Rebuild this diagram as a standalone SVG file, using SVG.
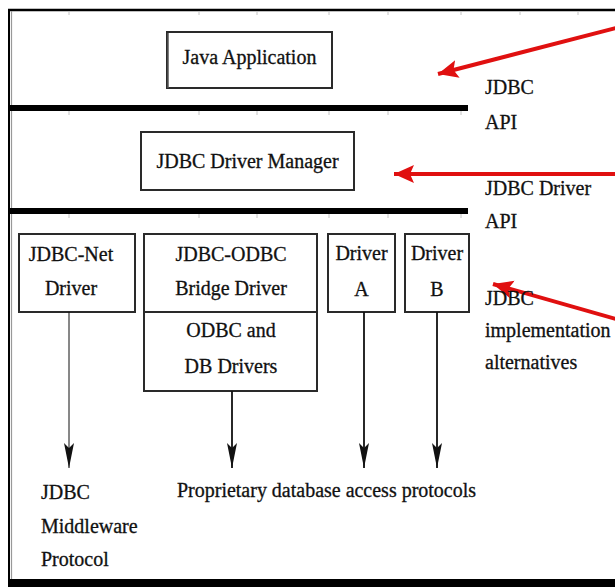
<svg xmlns="http://www.w3.org/2000/svg" width="615" height="587" viewBox="0 0 615 587" font-family="Liberation Serif, DejaVu Serif, serif" font-size="20">
  <style>
    text { fill: #111; stroke: #111; stroke-width: 0.3; }
    .c { text-anchor: middle; }
    .box { fill: #fff; stroke: #2a2a2a; stroke-width: 2; }
    .bar { stroke: #000; stroke-width: 6; }
    .tick { stroke: #c4c4c4; stroke-width: 1; }
    .down { stroke: #111; fill: none; }
    .red { stroke: #e01010; stroke-width: 4; fill: none; }
  </style>
  <defs>
    <marker id="redHead" markerUnits="userSpaceOnUse" markerWidth="24" markerHeight="20" refX="20" refY="9" orient="auto">
      <path d="M0,0 L20,9 L0,18 L4,9 Z" fill="#e01010"/>
    </marker>
    <marker id="blackHead" markerUnits="userSpaceOnUse" markerWidth="14" markerHeight="28" refX="6" refY="25" orient="0">
      <path d="M1,0 L6,25 L11,0 L6,5 Z" fill="#111"/>
    </marker>
  </defs>

  <rect x="0" y="0" width="615" height="587" fill="#fff"/>

  <!-- page frame -->
  <g id="frame">
    <line x1="8" y1="10" x2="615" y2="10" stroke="#000" stroke-width="2.5"/>
    <line x1="9" y1="9" x2="9" y2="582" stroke="#000" stroke-width="2"/>
    <line x1="11.5" y1="11" x2="11.5" y2="580" stroke="#999" stroke-width="1.2"/>
    <rect x="8" y="579" width="607" height="8" fill="#000"/>
  </g>

  <!-- faint grid ticks -->
  <g id="ticks" class="tick">
    <path d="M69,12v3 M199,12v3 M257,12v3 M329,12v3 M388,12v3 M461,12v3 M520,12v3 M578,12v3"/>
    <path d="M69,111v4 M199,111v4 M257,111v4 M329,111v4 M388,111v4 M461,111v4"/>
    <path d="M69,214v4 M199,214v4 M257,214v4 M329,214v4 M388,214v4 M461,214v4"/>
  </g>

  <!-- layer separators -->
  <g id="separators">
    <line class="bar" x1="10" y1="108" x2="468" y2="108"/>
    <line class="bar" x1="10" y1="211" x2="468" y2="211"/>
  </g>

  <g id="java-application">
    <rect class="box" x="167" y="32" width="165" height="56"/>
    <line x1="168" y1="33" x2="168" y2="88" stroke="#555" stroke-width="1.5"/>
    <text class="c" x="249.5" y="64">Java Application</text>
  </g>

  <g id="driver-manager">
    <rect class="box" x="141" y="132" width="213" height="58"/>
    <text class="c" x="247.5" y="168">JDBC Driver Manager</text>
  </g>

  <g id="jdbc-net-driver">
    <rect class="box" x="19" y="234" width="116" height="78"/>
    <text class="c" x="71" y="261">JDBC-Net</text>
    <text class="c" x="71" y="295">Driver</text>
  </g>

  <g id="jdbc-odbc-bridge">
    <rect class="box" x="144" y="234" width="173" height="78"/>
    <text class="c" x="231" y="261">JDBC-ODBC</text>
    <text class="c" x="231" y="295">Bridge Driver</text>
  </g>

  <g id="odbc-db-drivers">
    <rect class="box" x="144" y="312" width="173" height="79"/>
    <text class="c" x="231" y="337">ODBC and</text>
    <text class="c" x="231" y="373">DB Drivers</text>
  </g>

  <g id="driver-a">
    <rect class="box" x="328" y="234" width="67" height="78"/>
    <text class="c" x="361.5" y="260">Driver</text>
    <text class="c" x="361.5" y="296">A</text>
  </g>

  <g id="driver-b">
    <rect class="box" x="405" y="234" width="64" height="78"/>
    <text class="c" x="437" y="260">Driver</text>
    <text class="c" x="437" y="296">B</text>
  </g>

  <!-- connectors: protocols below, callouts on the right -->
  <g id="connectors">
    <line class="down" x1="69" y1="312" x2="69" y2="468" stroke-width="1" marker-end="url(#blackHead)"/>
    <line class="down" x1="232" y1="391" x2="232" y2="468" stroke-width="1.8" marker-end="url(#blackHead)"/>
    <line class="down" x1="364" y1="312" x2="364" y2="468" stroke-width="1.8" marker-end="url(#blackHead)"/>
    <line class="down" x1="437" y1="312" x2="437" y2="468" stroke-width="1.8" marker-end="url(#blackHead)"/>

    <line class="red" x1="616" y1="28" x2="438" y2="74" marker-end="url(#redHead)"/>
    <line class="red" x1="616" y1="174" x2="394" y2="174" marker-end="url(#redHead)"/>
    <line class="red" x1="616" y1="319" x2="493" y2="284" marker-end="url(#redHead)"/>
  </g>

  <!-- layer labels -->
  <g id="labels">
    <text x="485" y="94">JDBC</text>
    <text x="485" y="129">API</text>
    <text x="485" y="195">JDBC Driver</text>
    <text x="485" y="228">API</text>
    <text x="485" y="305">JDBC</text>
    <text x="485" y="337">implementation</text>
    <text x="485" y="369">alternatives</text>
    <text x="41" y="499">JDBC</text>
    <text x="41" y="533">Middleware</text>
    <text x="41" y="566">Protocol</text>
    <text x="177" y="497" textLength="299" lengthAdjust="spacingAndGlyphs">Proprietary database access protocols</text>
  </g>
</svg>
